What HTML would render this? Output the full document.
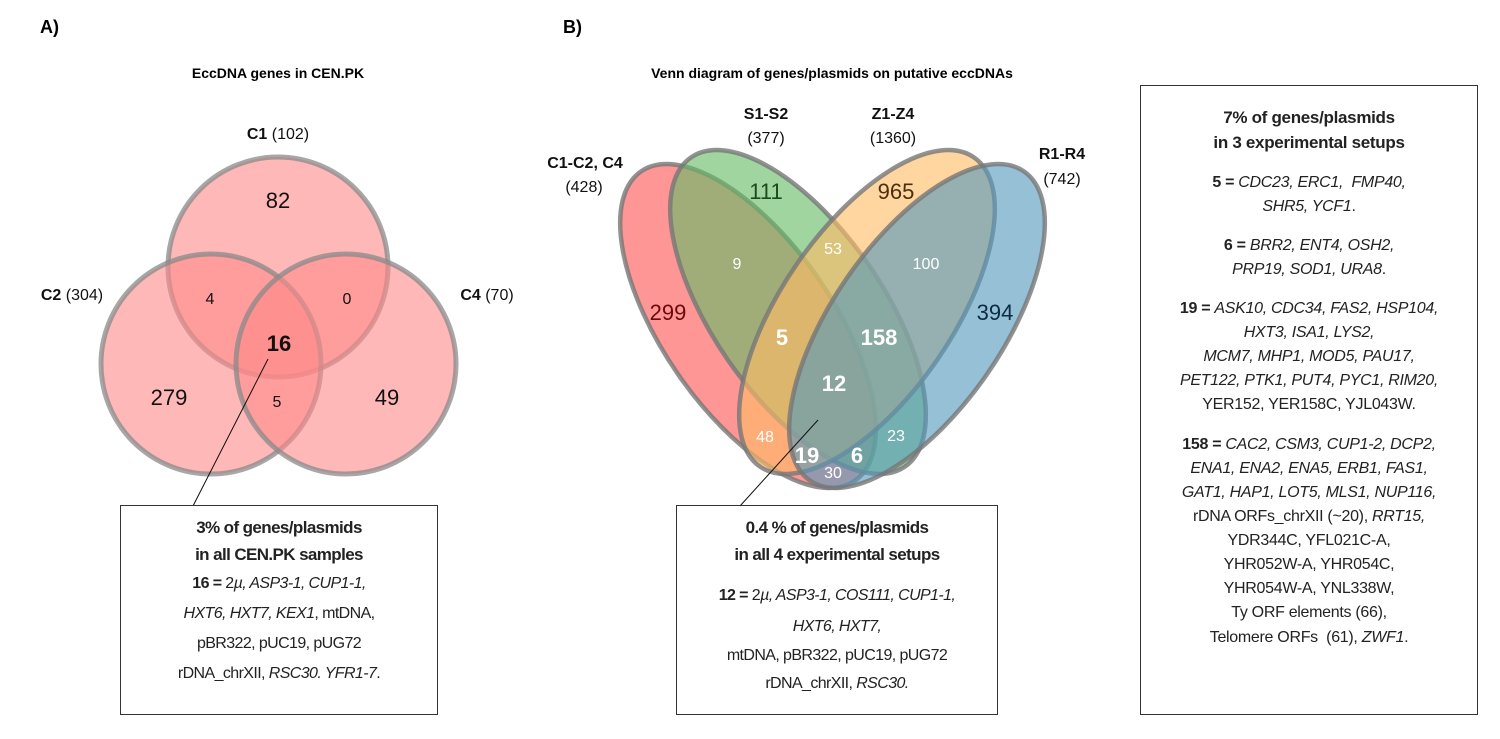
<!DOCTYPE html>
<html><head><meta charset="utf-8"><style>
body{margin:0;background:#fff;width:1500px;height:739px;overflow:hidden;font-family:"Liberation Sans",sans-serif;}
svg{position:absolute;left:0;top:0}
.box{position:absolute;border:1.3px solid #333;text-align:center;color:#222;box-sizing:border-box}
.l{position:absolute;left:0;right:0;white-space:nowrap}
.n{letter-spacing:-0.6px}
b{font-weight:bold}
</style></head><body>
<svg width="1500" height="739" font-family="Liberation Sans, sans-serif">
<text x="40" y="33" font-size="18" font-weight="bold">A)</text>
<text x="563" y="33" font-size="18" font-weight="bold">B)</text>
<text x="278" y="78" font-size="14" font-weight="bold" text-anchor="middle">EccDNA genes in CEN.PK</text>
<text x="832" y="78" font-size="14" font-weight="bold" text-anchor="middle">Venn diagram of genes/plasmids on putative eccDNAs</text>
<g fill="#f88" fill-opacity="0.6" stroke="#8a8a8a" stroke-width="5" stroke-opacity="0.75">
<circle cx="278" cy="267" r="110"/>
<circle cx="211" cy="364" r="110"/>
<circle cx="346" cy="364" r="110"/>
</g>
<g font-size="16" text-anchor="middle" fill="#111">
<text x="278" y="139"><tspan font-weight="bold">C1</tspan> (102)</text>
<text x="72" y="300"><tspan font-weight="bold">C2</tspan> (304)</text>
<text x="487" y="300"><tspan font-weight="bold">C4</tspan> (70)</text>
</g>
<g text-anchor="middle" fill="#111">
<text x="278" y="208" font-size="22">82</text>
<text x="210" y="304" font-size="16">4</text>
<text x="347" y="304" font-size="16">0</text>
<text x="279" y="351" font-size="22" font-weight="bold">16</text>
<text x="169" y="405" font-size="22">279</text>
<text x="277" y="407" font-size="16">5</text>
<text x="387" y="405" font-size="22">49</text>
</g>
<line x1="268" y1="359" x2="193" y2="506" stroke="#111" stroke-width="1"/>
<g stroke="#777" stroke-width="4.5" stroke-opacity="0.8" fill-opacity="0.62">
<ellipse cx="748" cy="326" rx="188" ry="85" transform="rotate(55.3 748 326)" fill="#f55"/>
<ellipse cx="798" cy="312" rx="188" ry="85" transform="rotate(55.3 798 312)" fill="#6b6"/>
<ellipse cx="867" cy="312" rx="188" ry="85" transform="rotate(-55.3 867 312)" fill="#fb6"/>
<ellipse cx="917" cy="326" rx="188" ry="85" transform="rotate(-55.3 917 326)" fill="#59b"/>
</g>
<g font-size="16" text-anchor="middle" fill="#111">
<text x="585" y="168" font-weight="bold">C1-C2, C4</text>
<text x="584" y="192">(428)</text>
<text x="766" y="119" font-weight="bold">S1-S2</text>
<text x="766" y="143">(377)</text>
<text x="893" y="119" font-weight="bold">Z1-Z4</text>
<text x="893" y="143">(1360)</text>
<text x="1062" y="159" font-weight="bold">R1-R4</text>
<text x="1062" y="184">(742)</text>
</g>
<g text-anchor="middle" fill="#fff">
<text x="766" y="199" font-size="22" fill="#1d4a1d">111</text>
<text x="896" y="199" font-size="22" fill="#4a3010">965</text>
<text x="833" y="254" font-size="16">53</text>
<text x="737" y="269" font-size="16">9</text>
<text x="926" y="269" font-size="16">100</text>
<text x="668" y="320" font-size="22" fill="#6a0a0a">299</text>
<text x="995" y="320" font-size="22" fill="#0d2a44">394</text>
<text x="782" y="345" font-size="22" font-weight="bold">5</text>
<text x="879" y="345" font-size="22" font-weight="bold">158</text>
<text x="834" y="391" font-size="22" font-weight="bold">12</text>
<text x="765" y="442" font-size="16">48</text>
<text x="807" y="463" font-size="22" font-weight="bold">19</text>
<text x="857" y="463" font-size="22" font-weight="bold">6</text>
<text x="896" y="441" font-size="16">23</text>
<text x="833" y="478" font-size="16">30</text>
</g>
<line x1="818" y1="420" x2="740" y2="506" stroke="#111" stroke-width="1"/>
</svg>

<div class="box n" style="left:120px;top:505px;width:318px;height:210px;font-size:16px">
<div class="l" style="top:12px;font-weight:bold;font-size:17px">3% of genes/plasmids</div>
<div class="l" style="top:39px;font-weight:bold;font-size:17px">in all CEN.PK samples</div>
<div class="l" style="top:69px"><b>16 =</b> 2<i>µ, ASP3-1, CUP1-1,</i></div>
<div class="l" style="top:99px"><i>HXT6, HXT7, KEX1</i>, mtDNA,</div>
<div class="l" style="top:129px">pBR322, pUC19, pUG72</div>
<div class="l" style="top:159px">rDNA_chrXII, <i>RSC30. YFR1-7</i>.</div>
</div>

<div class="box n" style="left:676px;top:505px;width:322px;height:210px;font-size:16px">
<div class="l" style="top:12px;font-weight:bold;font-size:17px">0.4 % of genes/plasmids</div>
<div class="l" style="top:39px;font-weight:bold;font-size:17px">in all 4 experimental setups</div>
<div class="l" style="top:81px"><b>12 =</b> 2<i>µ, ASP3-1, COS111, CUP1-1,</i></div>
<div class="l" style="top:112px"><i>HXT6, HXT7,</i></div>
<div class="l" style="top:141px">mtDNA, pBR322, pUC19, pUG72</div>
<div class="l" style="top:169px">rDNA_chrXII, <i>RSC30.</i></div>
</div>

<div class="box" style="left:1140px;top:85px;width:338px;height:630px;font-size:16px;letter-spacing:-0.3px">
<div class="l" style="top:22px;font-weight:bold;font-size:17px">7% of genes/plasmids</div>
<div class="l" style="top:47px;font-weight:bold;font-size:17px">in 3 experimental setups</div>
<div class="l" style="top:88px"><b>5 =</b> <i>CDC23, ERC1,&nbsp; FMP40,</i></div>
<div class="l" style="top:112px"><i>SHR5, YCF1</i>.</div>
<div class="l" style="top:151px"><b>6 =</b> <i>BRR2, ENT4, OSH2,</i></div>
<div class="l" style="top:175px"><i>PRP19, SOD1, URA8</i>.</div>
<div class="l" style="top:214px"><b>19 =</b> <i>ASK10, CDC34, FAS2, HSP104,</i></div>
<div class="l" style="top:238px"><i>HXT3, ISA1, LYS2,</i></div>
<div class="l" style="top:262px"><i>MCM7, MHP1, MOD5, PAU17,</i></div>
<div class="l" style="top:286px"><i>PET122, PTK1, PUT4, PYC1, RIM20,</i></div>
<div class="l" style="top:310px">YER152, YER158C, YJL043W.</div>
<div class="l" style="top:350px"><b>158 =</b> <i>CAC2, CSM3, CUP1-2, DCP2,</i></div>
<div class="l" style="top:374px"><i>ENA1, ENA2, ENA5, ERB1, FAS1,</i></div>
<div class="l" style="top:398px"><i>GAT1, HAP1, LOT5, MLS1, NUP116,</i></div>
<div class="l" style="top:422px">rDNA ORFs_chrXII (~20), <i>RRT15,</i></div>
<div class="l" style="top:446px">YDR344C, YFL021C-A,</div>
<div class="l" style="top:470px">YHR052W-A, YHR054C,</div>
<div class="l" style="top:494px">YHR054W-A, YNL338W,</div>
<div class="l" style="top:518px">Ty ORF elements (66),</div>
<div class="l" style="top:543px">Telomere ORFs&nbsp; (61), <i>ZWF1</i>.</div>
</div>
</body></html>
